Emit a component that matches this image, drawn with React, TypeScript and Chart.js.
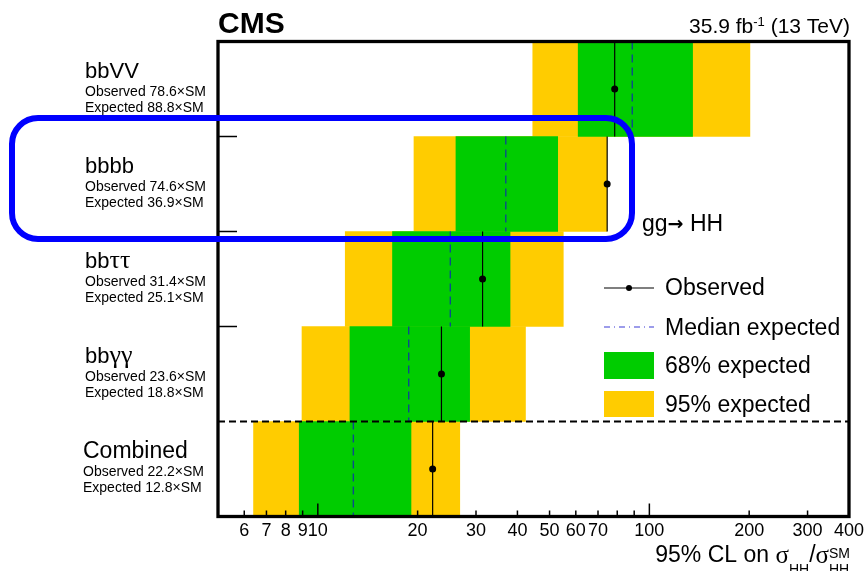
import React, { useEffect, useRef } from 'react';
import { Chart, registerables } from 'chart.js';

Chart.register(...registerables);

// ---------------- data ----------------
const channels = ['bbVV', 'bbbb', 'bbττ', 'bbγγ', 'Combined'];
const observed = [78.6, 74.6, 31.4, 23.6, 22.2];
const expected = [88.8, 36.9, 25.1, 18.8, 12.8];
const band95Lo = [44.5, 19.5, 12.1, 8.96, 6.4];
const band68Lo = [61, 26.1, 16.8, 12.5, 8.79];
const band68Hi = [135, 52.9, 38, 28.7, 19.1];
const band95Hi = [201, 74.4, 55, 42.3, 26.8];
const tickValues = [6, 7, 8, 9, 10, 20, 30, 40, 50, 60, 70, 80, 90, 100, 200, 300, 400];
const tickLabels = ['6', '7', '8', '9', '10', '20', '30', '40', '50', '60', '70', '', '', '100', '200', '300', '400'];
const majorTicks = [10, 100];
const xMin = 5;
const xMax = 400;
const legendLabels = ['Observed', 'Median expected', '68% expected', '95% expected'];

const GREEN = '#00cc00';
const YELLOW = '#ffcc00';
const SANS = '"Liberation Sans", Arial, Helvetica, sans-serif';
const SERIF = '"Liberation Serif", "Times New Roman", serif';
const DEJAVU = '"DejaVu Sans", sans-serif';

const isGreek = (ch: string) => /[\u0370-\u03FF]/.test(ch);

function mixedRuns(text: string) {
  const runs: { t: string; g: boolean }[] = [];
  for (const ch of Array.from(text)) {
    const g = isGreek(ch);
    if (runs.length && runs[runs.length - 1].g === g) runs[runs.length - 1].t += ch;
    else runs.push({ t: ch, g });
  }
  return runs;
}

function drawMixed(ctx: CanvasRenderingContext2D, text: string, x: number, y: number, size: number, weight = 'normal') {
  let cx = x;
  for (const r of mixedRuns(text)) {
    ctx.font = `${weight} ${r.g ? size + 4 : size}px ${r.g ? SERIF : SANS}`;
    ctx.fillText(r.t, cx, y);
    cx += ctx.measureText(r.t).width;
  }
  return cx - x;
}

type Seg = { t: string; size: number; family?: string; dy?: number; bold?: boolean; stackWith?: Seg };

function setFont(ctx: CanvasRenderingContext2D, s: Seg) {
  ctx.font = `${s.bold ? 'bold' : 'normal'} ${s.size}px ${s.family || SANS}`;
}

function segWidth(ctx: CanvasRenderingContext2D, s: Seg) {
  setFont(ctx, s);
  let w = ctx.measureText(s.t).width;
  if (s.stackWith) {
    setFont(ctx, s.stackWith);
    w = Math.max(w, ctx.measureText(s.stackWith.t).width);
  }
  return w;
}

function drawSegs(ctx: CanvasRenderingContext2D, segs: Seg[], x: number, y: number, alignRight: boolean) {
  const total = segs.reduce((a, s) => a + segWidth(ctx, s), 0);
  let cx = alignRight ? x - total : x;
  for (const s of segs) {
    const w = segWidth(ctx, s);
    setFont(ctx, s);
    ctx.fillText(s.t, cx, y + (s.dy || 0));
    if (s.stackWith) {
      setFont(ctx, s.stackWith);
      ctx.fillText(s.stackWith.t, cx, y + (s.stackWith.dy || 0));
    }
    cx += w;
  }
}

const overlayPlugin = {
  id: 'cmsOverlay',
  afterDatasetsDraw(chart: any) {
    const { ctx, chartArea: a, scales } = chart;
    const xs = scales.x;
    const yl = scales.yl;
    ctx.save();
    ctx.strokeStyle = '#000';
    // dashed separator above the combined row
    ctx.lineWidth = 2;
    ctx.setLineDash([7, 4]);
    const ysep = yl.getPixelForValue(channels.length - 1);
    ctx.beginPath();
    ctx.moveTo(a.left, ysep);
    ctx.lineTo(a.right, ysep);
    ctx.stroke();
    ctx.setLineDash([]);
    // y ticks
    ctx.lineWidth = 1.5;
    for (let i = 1; i < channels.length - 1; i++) {
      const y = yl.getPixelForValue(i);
      ctx.beginPath();
      ctx.moveTo(a.left, y);
      ctx.lineTo(a.left + 19, y);
      ctx.stroke();
    }
    // x ticks (inward)
    tickValues.forEach((v) => {
      const px = xs.getPixelForValue(v);
      const len = majorTicks.includes(v) ? 13 : 6;
      ctx.beginPath();
      ctx.moveTo(px, a.bottom);
      ctx.lineTo(px, a.bottom - len);
      ctx.stroke();
    });
    // frame
    ctx.lineWidth = 3.3;
    ctx.strokeRect(a.left, a.top, a.right - a.left, a.bottom - a.top);
    ctx.restore();
  },
  afterDraw(chart: any) {
    const { ctx, scales } = chart;
    const yl = scales.yl;
    ctx.save();
    ctx.fillStyle = '#000';
    ctx.textBaseline = 'alphabetic';
    ctx.textAlign = 'left';

    // CMS label
    ctx.font = `bold 30px ${SANS}`;
    ctx.fillText('CMS', 218, 33);

    // luminosity
    drawSegs(ctx, [
      { t: '35.9 fb', size: 21 },
      { t: '-1', size: 13, dy: -7 },
      { t: ' (13 TeV)', size: 21 },
    ], 850, 33, true);

    // row labels
    channels.forEach((name, i) => {
      const yc = yl.getPixelForValue(i + 0.5);
      const last = i === channels.length - 1;
      const big = last ? 23 : 22;
      const x0 = last ? 83 : 85;
      drawMixed(ctx, name, x0, yc - 11, big);
      ctx.font = `14px ${SANS}`;
      ctx.fillText(`Observed ${observed[i]}×SM`, x0, yc + 7);
      ctx.fillText(`Expected ${expected[i]}×SM`, x0, yc + 23);
    });

    // process label
    drawSegs(ctx, [
      { t: 'gg', size: 23 },
      { t: '→', size: 19, family: DEJAVU, bold: true, dy: -1 },
      { t: ' HH', size: 23 },
    ], 642, 231, false);

    // legend
    const lx0 = 604, lx1 = 654, tx = 665;
    ctx.strokeStyle = '#000';
    ctx.lineWidth = 1.2;
    ctx.beginPath();
    ctx.moveTo(lx0, 288);
    ctx.lineTo(lx1, 288);
    ctx.stroke();
    ctx.beginPath();
    ctx.arc((lx0 + lx1) / 2, 288, 3, 0, Math.PI * 2);
    ctx.fill();
    ctx.strokeStyle = '#3a3ad6';
    ctx.setLineDash([6, 4, 1, 4]);
    ctx.beginPath();
    ctx.moveTo(lx0, 327);
    ctx.lineTo(lx1, 327);
    ctx.stroke();
    ctx.setLineDash([]);
    ctx.fillStyle = GREEN;
    ctx.fillRect(lx0, 352, lx1 - lx0, 27);
    ctx.fillStyle = YELLOW;
    ctx.fillRect(lx0, 391, lx1 - lx0, 26);
    ctx.fillStyle = '#000';
    ctx.font = `23px ${SANS}`;
    [295, 335, 373, 412].forEach((y, k) => ctx.fillText(legendLabels[k], tx, y));

    // x axis title
    drawSegs(ctx, [
      { t: '95% CL on ', size: 23 },
      { t: 'σ', size: 25, family: SERIF, dy: 1 },
      { t: 'HH', size: 14, dy: 12.5 },
      { t: '/', size: 23 },
      { t: 'σ', size: 25, family: SERIF, dy: 1 },
      { t: 'HH', size: 14, dy: 12.5, stackWith: { t: 'SM', size: 14, dy: -4 } },
    ], 850, 561.5, true);

    // highlight box
    ctx.strokeStyle = '#0000ff';
    ctx.lineWidth = 6;
    ctx.beginPath();
    (ctx as any).roundRect(12, 118, 620, 121, 26);
    ctx.stroke();
    ctx.restore();
  },
};

export default function App() {
  const ref = useRef<HTMLCanvasElement | null>(null);

  useEffect(() => {
    if (!ref.current) return;
    const rows = channels.map((_, i) => i);
    const datasets: any[] = [
      {
        type: 'bar',
        label: '68% expected',
        data: rows.map((i) => [band68Lo[i], band68Hi[i]]),
        backgroundColor: GREEN,
        borderWidth: 0,
        grouped: false,
        barPercentage: 1,
        categoryPercentage: 1,
        xAxisID: 'x',
        yAxisID: 'y',
        order: 3,
      },
      {
        type: 'bar',
        label: '95% expected',
        data: rows.map((i) => [band95Lo[i], band95Hi[i]]),
        backgroundColor: YELLOW,
        borderWidth: 0,
        grouped: false,
        barPercentage: 1,
        categoryPercentage: 1,
        xAxisID: 'x',
        yAxisID: 'y',
        order: 4,
      },
    ];
    rows.forEach((i) => {
      datasets.push({
        type: 'scatter',
        label: 'median ' + channels[i],
        data: [{ x: expected[i], y: i }, { x: expected[i], y: i + 1 }],
        showLine: true,
        borderColor: '#0c4a8c',
        borderWidth: 1.4,
        borderDash: [8, 5],
        pointRadius: 0,
        xAxisID: 'x',
        yAxisID: 'yl',
        order: 2,
      });
      datasets.push({
        type: 'scatter',
        label: 'observed ' + channels[i],
        data: [{ x: observed[i], y: i }, { x: observed[i], y: i + 1 }],
        showLine: true,
        borderColor: '#000',
        borderWidth: 1.2,
        pointRadius: 0,
        xAxisID: 'x',
        yAxisID: 'yl',
        order: 1,
      });
    });
    datasets.push({
      type: 'scatter',
      label: 'observed points',
      data: rows.map((i) => ({ x: observed[i], y: i + 0.5 })),
      pointRadius: 3.5,
      pointBackgroundColor: '#000',
      pointBorderWidth: 0,
      showLine: false,
      xAxisID: 'x',
      yAxisID: 'yl',
      order: 0,
    });

    const chart = new Chart(ref.current, {
      type: 'bar',
      data: { labels: channels, datasets },
      options: {
        indexAxis: 'y',
        responsive: false,
        animation: false,
        devicePixelRatio: 1,
        layout: { padding: { left: 218, right: 18, top: 41.5, bottom: 0 } },
        plugins: { legend: { display: false }, tooltip: { enabled: false } },
        events: [],
        scales: {
          x: {
            type: 'logarithmic',
            min: xMin,
            max: xMax,
            offset: false,
            position: 'bottom',
            grid: { display: false, drawTicks: false },
            border: { display: false },
            afterBuildTicks: (s: any) => {
              s.ticks = tickValues.map((v) => ({ value: v }));
            },
            afterFit: (s: any) => {
              s.height = 54.5;
            },
            ticks: {
              autoSkip: false,
              maxRotation: 0,
              minRotation: 0,
              padding: 4,
              color: '#000',
              font: { family: 'Liberation Sans', size: 18 },
              callback: (value: any) => {
                const k = tickValues.indexOf(Number(value));
                return k >= 0 ? tickLabels[k] : '';
              },
            },
          },
          y: {
            type: 'category',
            display: false,
            offset: true,
          },
          yl: {
            type: 'linear',
            axis: 'y',
            display: false,
            offset: false,
            grid: { offset: false },
            min: 0,
            max: channels.length,
            reverse: true,
          },
        },
      } as any,
      plugins: [overlayPlugin],
    });
    return () => chart.destroy();
  }, []);

  return (
    <div style={{ position: 'absolute', left: 0, top: 0, width: 868, height: 571, background: '#fff' }}>
      <canvas ref={ref} width={868} height={571} style={{ display: 'block', width: 868, height: 571 }} />
    </div>
  );
}
